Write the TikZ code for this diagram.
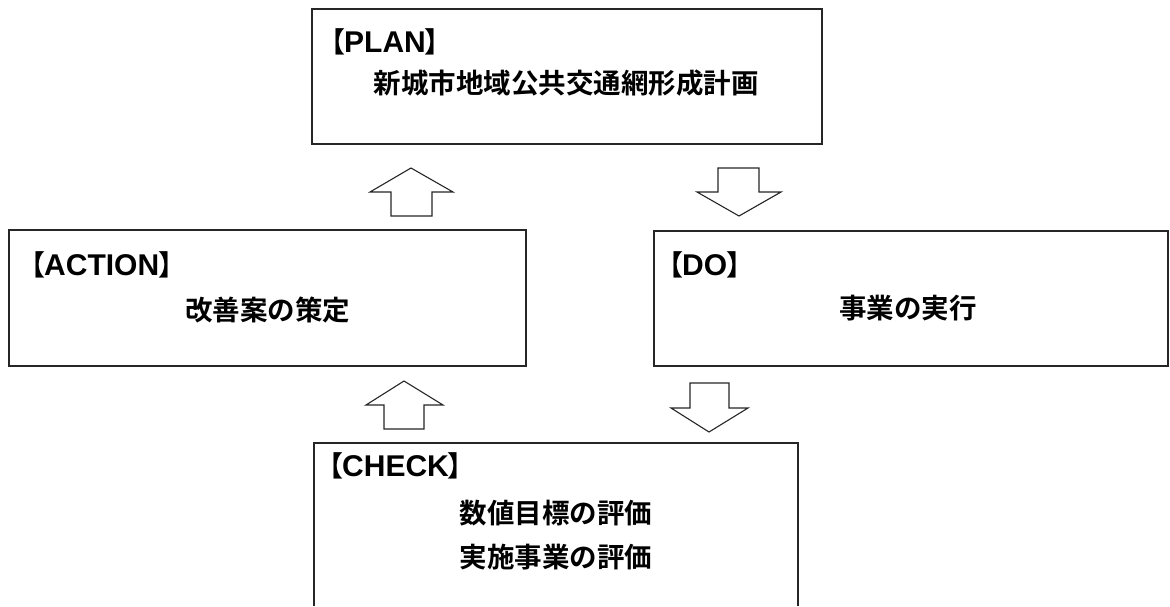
\documentclass[tikz,border=0pt]{standalone}
\usepackage{fontspec}
\newfontfamily\jpb{Noto Sans CJK JP Bold}
\newfontfamily\jpbh{Noto Sans CJK JP Bold}[CharacterWidth=AlternateHalf]
\newfontfamily\lat{Liberation Sans Bold}
\newcommand{\brl}{{\jpbh\fontsize{28}{28}\selectfont 【}\kern-1pt}
\newcommand{\brr}{\kern-1pt{\jpbh\fontsize{28}{28}\selectfont 】}}
\newcommand{\lbl}[1]{\brl{\lat\fontsize{30}{30}\selectfont #1}\brr}
\tikzset{
  box/.style={draw=black!85, line width=1.1pt},
  blockarrow/.style={draw=black!85, line width=1.1pt, fill=white, line join=miter},
  lbltext/.style={anchor=base west, inner sep=0pt},
  maintext/.style={anchor=center, inner sep=0pt, font=\jpb\fontsize{27.5}{44}\selectfont, align=center},
}
\begin{document}
\begin{tikzpicture}[x=1pt,y=-1pt]
\useasboundingbox (0,0) rectangle (1170,606);
% boxes
\draw[box] (312,9) rectangle (822,144);
\draw[box] (9,230) rectangle (526,366);
\draw[box] (654,231) rectangle (1168,366);
\draw[box] (314,606) -- (314,443) -- (798,443) -- (798,606);
% labels
\node[lbltext] (planlbl) at (331,52) {\lbl{PLAN}};
\node[lbltext] (actlbl) at (31,275) {\lbl{ACTION}};
\node[lbltext] (dolbl) at (669,275) {\lbl{DO}};
\node[lbltext] (chklbl) at (329,476) {\lbl{CHECK}};
% main texts
\node[maintext] (plan) at (566,83.5) {新城市地域公共交通網形成計画};
\node[maintext] (action) at (267.5,310) {改善案の策定};
\node[maintext] (do) at (908,308) {事業の実行};
\node[maintext] (check1) at (556,513) {数値目標の評価};
\node[maintext] (check2) at (556,557) {実施事業の評価};
% block arrows
\draw[blockarrow] (411,168) -- (453,192) -- (432,192) -- (432,216) -- (391,216) -- (391,192) -- (370,192) -- cycle;
\draw[blockarrow] (718,168) -- (759,168) -- (759,192) -- (781,192) -- (739,216) -- (697,192) -- (718,192) -- cycle;
\draw[blockarrow] (404,381) -- (443,405) -- (424,405) -- (424,429) -- (384,429) -- (384,405) -- (366,405) -- cycle;
\draw[blockarrow] (690,383) -- (729,383) -- (729,408) -- (748,408) -- (709,432) -- (671,408) -- (690,408) -- cycle;
\end{tikzpicture}
\end{document}
